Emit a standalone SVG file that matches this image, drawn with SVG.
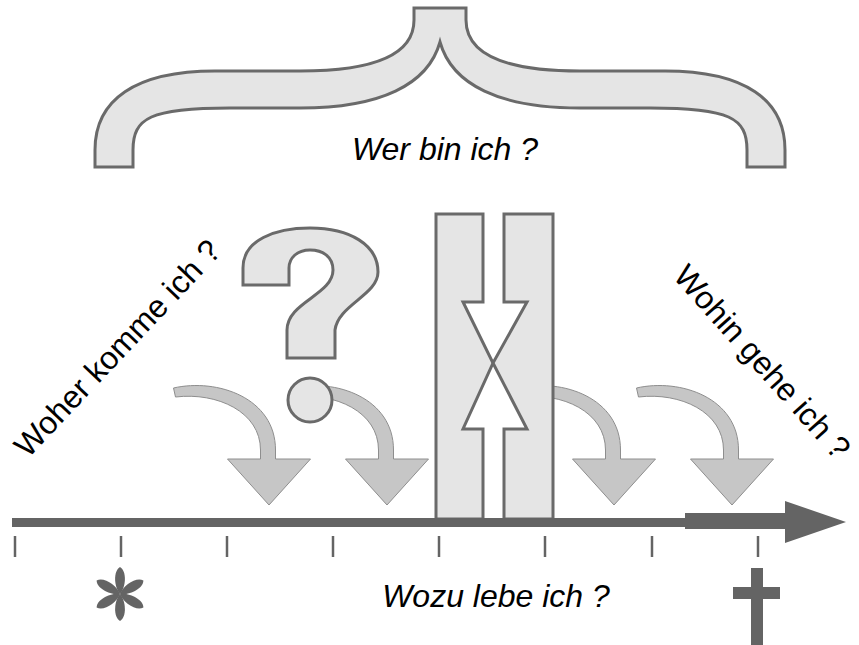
<svg xmlns="http://www.w3.org/2000/svg" width="859" height="645" viewBox="0 0 859 645">
  <style>
    .shape { fill: #e5e5e5; stroke: #6a6a6a; stroke-width: 3; stroke-linejoin: miter; }
    .curl { fill: #c6c6c6; stroke: #8e8e8e; stroke-width: 1; }
    .dark { fill: #646464; }
    .tick { stroke: #646464; stroke-width: 2.5; }
    .label { font-family: "Liberation Sans", Arial, sans-serif; font-size: 32px; fill: #000; }
    .it { font-style: italic; }
  </style>
  <defs>
    <!-- curved arrow, shaft centred on x=0 -->
    <path id="curl-shape" d="M-94,388 C-50,378 8,398 8,450 L8,459 L43,459 L1.5,505 L-40,459 L-7,459 L-7,450 C-7,412 -50,392 -92,397 Z"/>
    <!-- one petal of the birth star -->
    <path id="petal" d="M0,0 C-6,-7 -7,-23 0,-27 C7,-23 6,-7 0,0 Z"/>
  </defs>

  <!-- curly brace over the life span -->
  <g id="brace">
    <path class="shape" d="M95,167 L95,150 C95,100 135,71 215,71 L300,71 C360,71 414,60 414,20 L414,8 L466,8 L466,20 C466,60 520,71 580,71 L665,71 C745,71 785,100 785,150 L785,167 L747,167 L747,150 C747,118 730,108 650,108 L580,108 C500,108 452,85 440,42 C428,85 380,108 300,108 L230,108 C150,108 133,118 133,150 L133,167 Z"/>
  </g>

  <!-- curved arrows falling onto the time line -->
  <g id="connectors">
    <use href="#curl-shape" class="curl" x="267.5"/>
    <use href="#curl-shape" class="curl" x="385.5"/>
    <use href="#curl-shape" class="curl" x="612.5"/>
    <use href="#curl-shape" class="curl" x="730.5"/>
  </g>

  <!-- question mark -->
  <g id="question">
    <path class="shape" d="M243,285 L243,268 C243,240 275,228 310,228 C350,228 378,245 378,272 C378,295 338,305 335,330 L335,358 L287,358 L287,330 C287,302 333,295 333,270 C333,257 323,250 310,250 C297,250 289,258 289,268 L289,285 Z"/>
    <circle class="shape" cx="310" cy="400" r="22"/>
  </g>

  <!-- two pillars with the hourglass cut between them -->
  <g id="pillars">
    <path class="shape" d="M436,214 L483,214 L483,302 L463,302 L493,363 L463,429 L483,429 L483,519 L436,519 Z"/>
    <path class="shape" d="M504,214 L553,214 L553,519 L504,519 L504,429 L527,429 L493,363 L527,302 L504,302 Z"/>
  </g>

  <!-- time line -->
  <g id="timeline">
    <rect class="dark" x="12" y="518" width="676" height="9"/>
    <path class="dark" d="M685,513 L785,513 L785,501 L846,522 L785,543 L785,529 L685,529 Z"/>
  </g>

  <g id="ticks">
    <line class="tick" x1="15" y1="536" x2="15" y2="557"/>
    <line class="tick" x1="121" y1="536" x2="121" y2="557"/>
    <line class="tick" x1="227" y1="536" x2="227" y2="557"/>
    <line class="tick" x1="333" y1="536" x2="333" y2="557"/>
    <line class="tick" x1="439" y1="536" x2="439" y2="557"/>
    <line class="tick" x1="545" y1="536" x2="545" y2="557"/>
    <line class="tick" x1="652" y1="536" x2="652" y2="557"/>
    <line class="tick" x1="758" y1="536" x2="758" y2="557"/>
  </g>

  <!-- birth star -->
  <g id="birth" class="dark" transform="translate(120,594)">
    <use href="#petal"/>
    <use href="#petal" transform="rotate(60)"/>
    <use href="#petal" transform="rotate(120)"/>
    <use href="#petal" transform="rotate(180)"/>
    <use href="#petal" transform="rotate(240)"/>
    <use href="#petal" transform="rotate(300)"/>
  </g>

  <!-- death cross -->
  <g id="death" class="dark">
    <rect x="751" y="568" width="12" height="77"/>
    <rect x="733" y="587" width="47" height="12"/>
  </g>

  <g id="labels">
    <text class="label it" x="445" y="160" text-anchor="middle">Wer bin ich ?</text>
    <text class="label it" x="496" y="607" text-anchor="middle">Wozu lebe ich ?</text>
    <text class="label" transform="translate(28,459) rotate(-46.7)">Woher komme ich ?</text>
    <text class="label" transform="translate(672,277) rotate(48.3)">Wohin gehe ich ?</text>
  </g>
</svg>
